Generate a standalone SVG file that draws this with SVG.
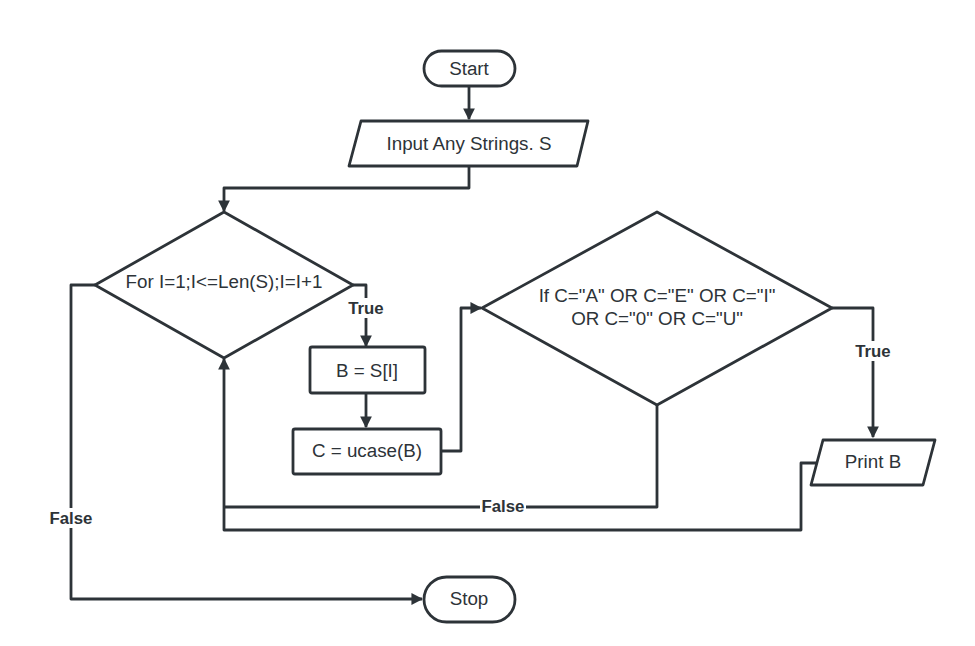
<svg xmlns="http://www.w3.org/2000/svg" width="975" height="646" viewBox="0 0 975 646">
<defs>
<marker id="ah" viewBox="0 0 10 10" refX="9" refY="5" markerWidth="4.2" markerHeight="4.2" orient="auto" markerUnits="strokeWidth">
<path d="M0,0 L10,5 L0,10 Z" fill="#2d3338"/>
</marker>
<style>
.s{fill:#fff;stroke:#2d3338;stroke-width:2.8;stroke-linejoin:round}
.c{fill:none;stroke:#2d3338;stroke-width:2.8;stroke-linejoin:round}
.t{font-family:"Liberation Sans",Arial,sans-serif;font-size:18.8px;fill:#2d3338;text-anchor:middle;dominant-baseline:central}
.l{font-family:"Liberation Sans",Arial,sans-serif;font-size:16.8px;font-weight:bold;fill:#2d3338;text-anchor:middle;dominant-baseline:central}
</style>
</defs>
<rect width="975" height="646" fill="#fff"/>
<g id="connectors">
<path class="c" d="M469,86 V119" marker-end="url(#ah)"/>
<path class="c" d="M469,166 V188 H224 V211" marker-end="url(#ah)"/>
<path class="c" d="M353,285 H366 V346" marker-end="url(#ah)"/>
<path class="c" d="M366,393 V427" marker-end="url(#ah)"/>
<path class="c" d="M441,451 H461 V308 H481" marker-end="url(#ah)"/>
<path class="c" d="M832,308 H873 V437" marker-end="url(#ah)"/>
<path class="c" d="M817,463 H801 V530 H224 V359" marker-end="url(#ah)"/>
<path class="c" d="M657,405 V507 H224"/>
<path class="c" d="M95,285 H71 V599 H422" marker-end="url(#ah)"/>
<rect x="346" y="298" width="40" height="20" fill="#fff"/>
<text class="l" x="366" y="308">True</text>
<rect x="852" y="341" width="42" height="20" fill="#fff"/>
<text class="l" x="873" y="351">True</text>
<rect x="480" y="497" width="46" height="20" fill="#fff"/>
<text class="l" x="503" y="506">False</text>
<rect x="48" y="508" width="46" height="20" fill="#fff"/>
<text class="l" x="71" y="518">False</text>
</g>
<g id="start">
<rect class="s" x="424" y="51" width="91" height="35" rx="17.5"/>
<text class="t" x="469" y="68">Start</text>
</g>
<g id="input">
<polygon class="s" points="361,121 588,121 577,166 349,166"/>
<text class="t" x="469" y="143">Input Any Strings. S</text>
</g>
<g id="loop">
<polygon class="s" points="224,212 353,285 224,358 95,285"/>
<text class="t" x="224" y="281">For I=1;I&lt;=Len(S);I=I+1</text>
</g>
<g id="assignB">
<rect class="s" x="310" y="347" width="115" height="46" rx="2"/>
<text class="t" x="367" y="370">B = S[I]</text>
</g>
<g id="assignC">
<rect class="s" x="293" y="429" width="148" height="45" rx="2"/>
<text class="t" x="367" y="450">C = ucase(B)</text>
</g>
<g id="vowel">
<polygon class="s" points="657,212 832,308 657,405 482,308"/>
<text class="t" x="657" y="295">If C="A" OR C="E" OR C="I"</text>
<text class="t" x="657" y="318">OR C="0" OR C="U"</text>
</g>
<g id="print">
<polygon class="s" points="823,440 935,440 923,485 811,485"/>
<text class="t" x="873" y="461">Print B</text>
</g>
<g id="stop">
<rect class="s" x="424" y="577" width="91" height="45" rx="22.5"/>
<text class="t" x="469" y="598">Stop</text>
</g>
</svg>
